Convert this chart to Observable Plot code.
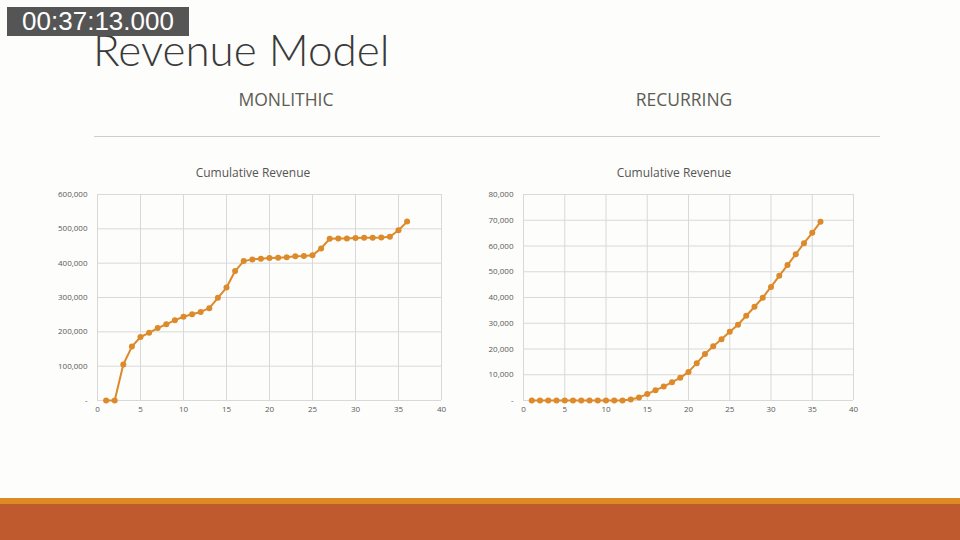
<!DOCTYPE html>
<html>
<head>
<meta charset="utf-8">
<script src="https://cdn.jsdelivr.net/npm/d3@7"></script>
<script src="https://cdn.jsdelivr.net/npm/@observablehq/plot@0.6"></script>
<style>
  html, body { margin: 0; padding: 0; }
  body { width: 960px; height: 540px; position: relative; overflow: hidden; background: #fdfdfb; font-family: "Open Sans", sans-serif; }
  .abs { position: absolute; }
  #stamp { left: 7px; top: 7px; width: 182px; height: 29px; background: #555; color: #fff; font-family: "Liberation Sans", Arial, sans-serif; font-size: 26px; line-height: 29px; text-align: center; z-index: 2; }
  #title { left: 93px; top: 23px; font-family: Lato, sans-serif; font-weight: 300; font-size: 44px; color: #3a3a3a; line-height: 52px; white-space: nowrap; }
  .sec { font-size: 17.5px; color: #5c5c55; width: 300px; text-align: center; top: 87px; }
  #rule { left: 94px; top: 136px; width: 786px; height: 0; border-top: 1.5px solid #cfcfcf; }
  .ctitle { font-size: 12px; color: #555; width: 300px; text-align: center; top: 164px; }
  #band1 { left: 0; top: 498px; width: 960px; height: 6px; background: #dd8a22; }
  #band2 { left: 0; top: 504px; width: 960px; height: 36px; background: #bf5a2f; }
</style>
</head>
<body>
<div id="stamp" class="abs">00:37:13.000</div>
<div id="title" class="abs">Revenue Model</div>
<div class="abs sec" style="left:136px">MONLITHIC</div>
<div class="abs sec" style="left:534px">RECURRING</div>
<div id="rule" class="abs"></div>
<div class="abs ctitle" style="left:103px">Cumulative Revenue</div>
<div class="abs ctitle" style="left:524px">Cumulative Revenue</div>
<div id="left" class="abs" style="left:40px; top:185px"></div>
<div id="right" class="abs" style="left:470px; top:185px"></div>
<div id="band1" class="abs"></div>
<div id="band2" class="abs"></div>
<script>
const months = d3.range(1, 37);
const monolithic = [0, 0, 105000, 157000, 185000, 197000, 211000, 222000, 234000, 244000, 251000, 258000, 269000, 299000, 329000, 377000, 406000, 411000, 413000, 415000, 416000, 417000, 420000, 421000, 423000, 443000, 471000, 472000, 472000, 473000, 474000, 474000, 475000, 477000, 496000, 521000];
const recurring = [0, 0, 0, 0, 0, 0, 0, 0, 0, 0, 0, 0, 400, 1200, 2500, 4000, 5400, 7100, 8800, 11100, 14500, 18100, 21100, 23800, 26700, 29400, 32900, 36400, 39900, 44100, 48400, 52600, 56800, 61100, 65100, 69400];
const xTicks = [0, 5, 10, 15, 20, 25, 30, 35, 40];
const leftYTicks = [0, 100000, 200000, 300000, 400000, 500000, 600000];
const rightYTicks = [0, 10000, 20000, 30000, 40000, 50000, 60000, 70000, 80000];

const fmt = v => v === 0 ? "-" : d3.format(",")(v);
const color = "#dc8a2a";

function chart(values, yTicks, opts) {
  const data = months.map((m, i) => ({x: m, y: values[i]}));
  return Plot.plot({
    width: opts.width,
    height: 235,
    marginLeft: opts.ml,
    marginRight: opts.mr,
    marginTop: 9,
    marginBottom: 20,
    style: {background: "transparent", fontFamily: "Open Sans, sans-serif", fontSize: "8px", color: "#595959"},
    x: {domain: [0, 40], ticks: xTicks, tickSize: 0, tickPadding: 6, label: null},
    y: {domain: [0, yTicks[yTicks.length - 1]], ticks: yTicks, tickSize: 0, tickPadding: 10, tickFormat: fmt, label: null},
    marks: [
      Plot.gridX(xTicks, {stroke: "#d9d9d9", strokeOpacity: 1, strokeWidth: 1}),
      Plot.gridY(yTicks, {stroke: "#d9d9d9", strokeOpacity: 1, strokeWidth: 1}),
      Plot.line(data, {x: "x", y: "y", stroke: color, strokeWidth: 2}),
      Plot.dot(data, {x: "x", y: "y", fill: color, r: 3})
    ]
  });
}

document.getElementById("left").append(chart(monolithic, leftYTicks, {width: 410, ml: 57, mr: 9}));
document.getElementById("right").append(chart(recurring, rightYTicks, {width: 395, ml: 53, mr: 12}));
</script>
</body>
</html>
